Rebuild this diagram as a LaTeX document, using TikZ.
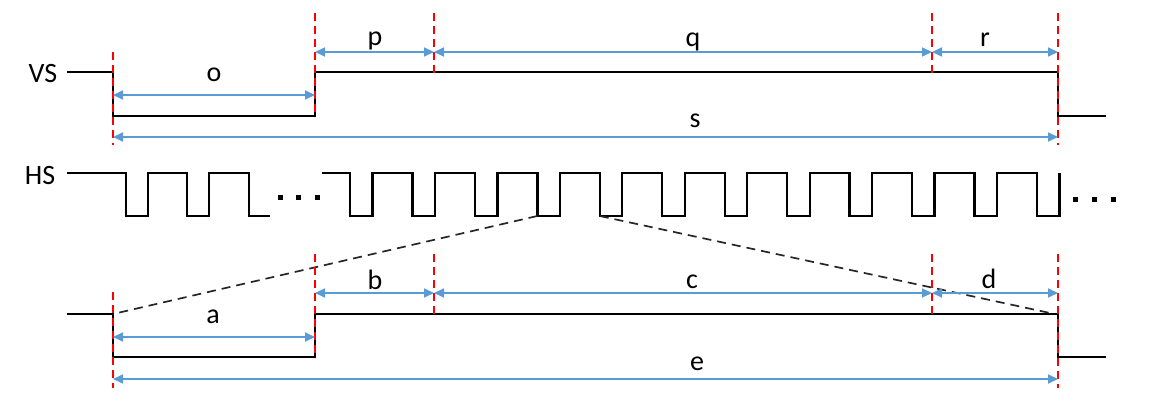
\documentclass[tikz,border=0pt]{standalone}
\usepackage{fontspec}
\setmainfont{Carlito}
\usetikzlibrary{arrows.meta}
\definecolor{arrowblue}{RGB}{91,155,213}
\begin{document}
\begin{tikzpicture}[x=1pt,y=-1pt,
  sig/.style={line width=2.3pt, line join=miter},
  marker/.style={red, line width=2.4pt, dash pattern=on 8pt off 5pt},
  dim/.style={arrowblue, line width=1.7pt, {Triangle[length=10pt,width=9pt]}-{Triangle[length=10pt,width=9pt]}},
  proj/.style={black!85, line width=1.7pt, dash pattern=on 9pt off 6pt},
  lbl/.style={font=\fontsize{28}{30}\selectfont, anchor=base, inner sep=0pt},
  dotmark/.style={fill=black}]
\useasboundingbox (0,0) rectangle (1155,406);

% VS signal
\draw[sig] (67,72) -- (113,72) -- (113,116) -- (315,116) -- (315,72) -- (1058,72) -- (1058,116) -- (1106,116);
% lower (zoomed) signal
\draw[sig] (67,314) -- (113,314) -- (113,357) -- (315,357) -- (315,314) -- (1058,314) -- (1058,357) -- (1106,357);

% HS signal
\draw[sig] (67,173) -- (126,173) -- (126,216) -- (148,216) -- (148,173) -- (187,173) -- (187,216) -- (209,216) -- (209,173) -- (249,173) -- (249,216) -- (270,216);
\foreach \x in {280,298,317} \fill[dotmark] (\x-2.5,194.5) rectangle (\x+2.5,199.5);
\draw[sig] (322,173) foreach \k in {0,...,11} { -- ({350+62.45*\k},173) -- ({350+62.45*\k},216) -- ({372.5+62.45*\k},216) -- ({372.5+62.45*\k},173) };
\foreach \x in {1075,1094,1113} \fill[dotmark] (\x-2.5,196.5) rectangle (\x+2.5,201.5);

% projection lines
\coordinate (pl) at (537.3,216);
\coordinate (pr) at (599.8,216);
\coordinate (ql) at (113,314);
\coordinate (qr) at (1050,313);
\draw[proj] (pl) -- (ql);
\draw[proj] (pr) -- (qr);

% red markers
\draw[marker] (113,52) -- (113,145);
\draw[marker] (315,13) -- (315,117);
\draw[marker] (434,13) -- (434,75);
\draw[marker] (932,13) -- (932,75);
\draw[marker] (1058,13) -- (1058,145);
\draw[marker] (113,292) -- (113,388);
\draw[marker] (315,254) -- (315,358);
\draw[marker] (434,254) -- (434,317);
\draw[marker] (932,254) -- (932,317);
\draw[marker] (1058,254) -- (1058,388);

% dimension arrows
\draw[dim] (113,95) -- (315,95);
\draw[dim] (315,52) -- (434,52);
\draw[dim] (434,52) -- (932,52);
\draw[dim] (932,52) -- (1058,52);
\draw[dim] (113,137) -- (1058,137);
\draw[dim] (113,337) -- (315,337);
\draw[dim] (315,293) -- (434,293);
\draw[dim] (434,293) -- (932,293);
\draw[dim] (932,293) -- (1058,293);
\draw[dim] (113,379) -- (1058,379);

% labels
\node[lbl] (lvs) at (43,83) {VS};
\node[lbl] (lhs) at (40,185) {HS};
\node[lbl] (lo) at (214,82) {o};
\node[lbl] (lp) at (375,46) {p};
\node[lbl] (lq) at (693,47) {q};
\node[lbl] (lr) at (985,47) {r};
\node[lbl] (ls) at (695,128) {s};
\node[lbl] (la) at (213,323) {a};
\node[lbl] (lb) at (375,289) {b};
\node[lbl] (lc) at (692,288) {c};
\node[lbl] (ld) at (989,288) {d};
\node[lbl] (le) at (697,370) {e};
\end{tikzpicture}
\end{document}
